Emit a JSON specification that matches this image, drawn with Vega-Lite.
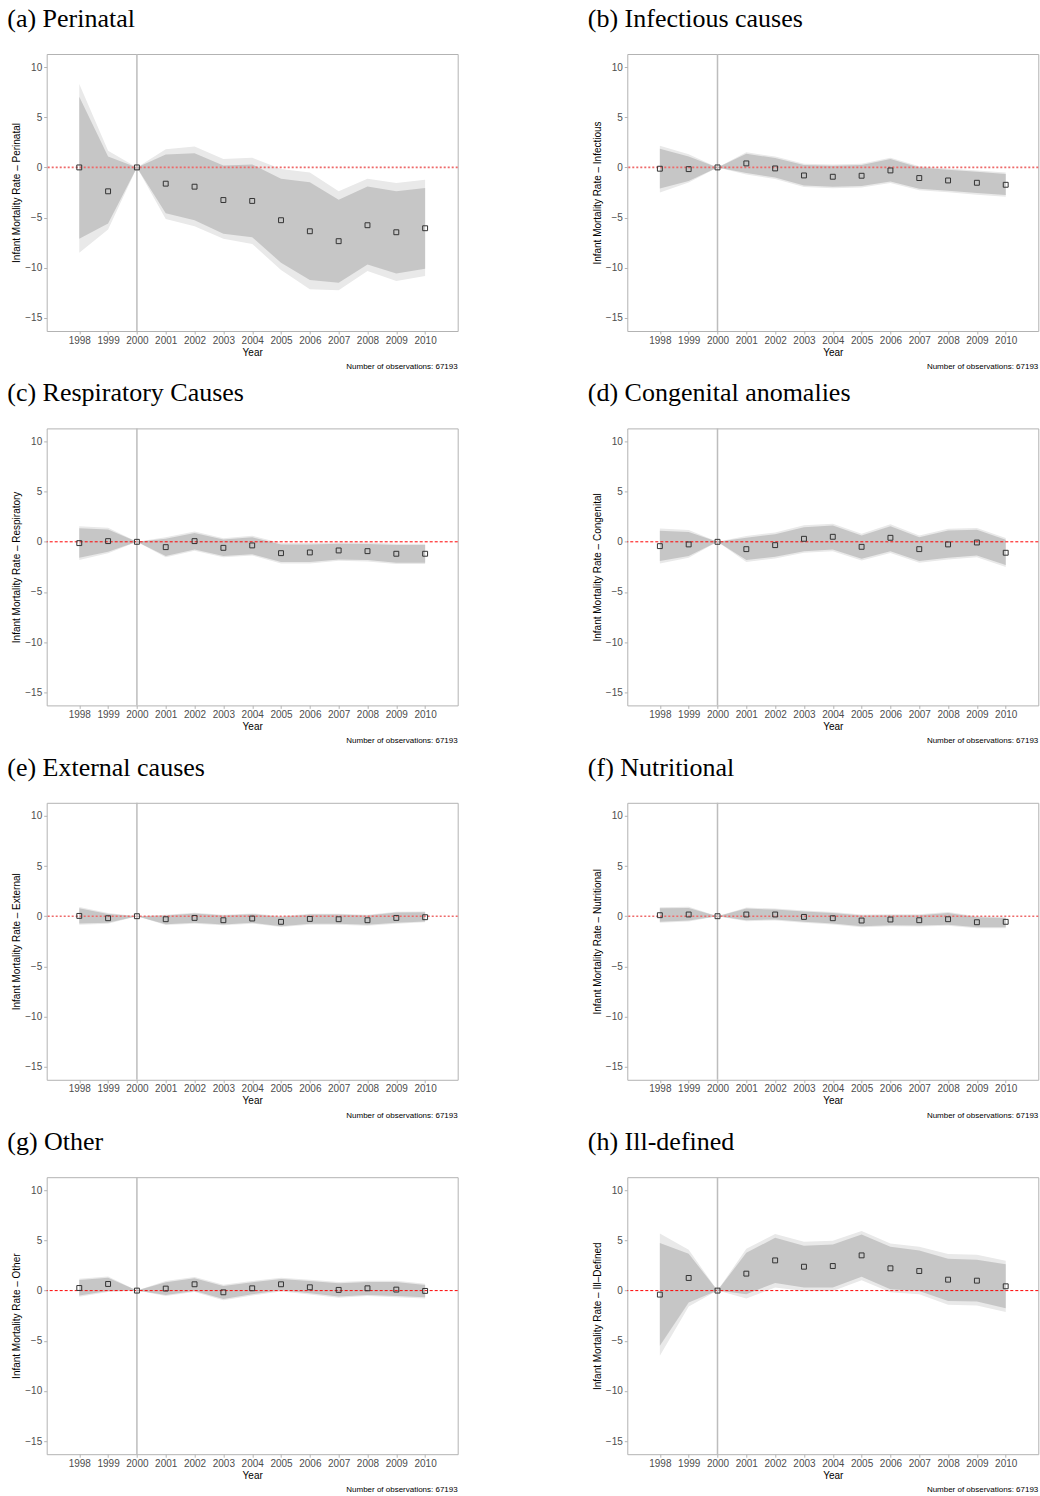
{
  "$schema": "https://vega.github.io/schema/vega-lite/v6.json",
  "padding": {"left": 6.7, "top": 5, "right": 0, "bottom": 0},
  "background": "white",
  "config": {
    "font": "Liberation Sans",
    "view": {"stroke": "#b3b3b3", "strokeWidth": 1},
    "axis": {"grid": false, "domain": false, "tickSize": 3, "tickColor": "#b3b3b3", "labelFont": "Liberation Sans", "labelFontSize": 10, "labelColor": "#4d4d4d", "titleFont": "Liberation Sans", "titleFontSize": 10, "titleFontWeight": "normal", "titleColor": "#000000"},
    "axisX": {"labelPadding": 1, "titlePadding": 2, "labelFlush": false, "labelOverlap": false},
    "axisY": {"labelPadding": 2, "titlePadding": 3},
    "title": {"font": "Liberation Serif", "fontSize": 26, "fontWeight": "normal", "color": "#000000", "anchor": "start", "frame": "bounds", "baseline": "alphabetic", "offset": 21, "dx": -4},
    "area": {"interpolate": "linear"},
    "point": {"shape": "square", "filled": false, "size": 24, "stroke": "#333333", "strokeWidth": 1, "opacity": 1}
  },
  "datasets": {
    "est": [
      {"panel": "a", "year": 1998, "est": 0, "lo90": -7.12, "hi90": 7.05, "lo95": -8.51, "hi95": 8.31},
      {"panel": "a", "year": 1999, "est": -2.38, "lo90": -5.6, "hi90": 1.09, "lo95": -6.19, "hi95": 1.66},
      {"panel": "a", "year": 2000, "est": 0, "lo90": 0, "hi90": 0, "lo95": 0, "hi95": 0},
      {"panel": "a", "year": 2001, "est": -1.62, "lo90": -4.57, "hi90": 1.29, "lo95": -5.13, "hi95": 1.82},
      {"panel": "a", "year": 2002, "est": -1.92, "lo90": -5.26, "hi90": 1.42, "lo95": -5.86, "hi95": 2.09},
      {"panel": "a", "year": 2003, "est": -3.25, "lo90": -6.62, "hi90": 0.2, "lo95": -7.12, "hi95": 0.83},
      {"panel": "a", "year": 2004, "est": -3.34, "lo90": -6.95, "hi90": 0.3, "lo95": -7.62, "hi95": 0.96},
      {"panel": "a", "year": 2005, "est": -5.26, "lo90": -9.5, "hi90": -1.13, "lo95": -10.23, "hi95": -0.17},
      {"panel": "a", "year": 2006, "est": -6.36, "lo90": -11.23, "hi90": -1.49, "lo95": -12.15, "hi95": -0.5},
      {"panel": "a", "year": 2007, "est": -7.35, "lo90": -11.49, "hi90": -3.21, "lo95": -12.25, "hi95": -2.38},
      {"panel": "a", "year": 2008, "est": -5.76, "lo90": -9.67, "hi90": -1.89, "lo95": -10.33, "hi95": -1.13},
      {"panel": "a", "year": 2009, "est": -6.46, "lo90": -10.56, "hi90": -2.38, "lo95": -11.32, "hi95": -1.56},
      {"panel": "a", "year": 2010, "est": -6.06, "lo90": -10.1, "hi90": -2.05, "lo95": -10.83, "hi95": -1.23},

      {"panel": "b", "year": 1998, "est": -0.13, "lo90": -2.09, "hi90": 1.86, "lo95": -2.49, "hi95": 2.16},
      {"panel": "b", "year": 1999, "est": -0.17, "lo90": -1.36, "hi90": 1.1, "lo95": -1.5, "hi95": 1.3},
      {"panel": "b", "year": 2000, "est": 0, "lo90": 0, "hi90": 0, "lo95": 0, "hi95": 0},
      {"panel": "b", "year": 2001, "est": 0.4, "lo90": -0.56, "hi90": 1.36, "lo95": -0.7, "hi95": 1.5},
      {"panel": "b", "year": 2002, "est": -0.1, "lo90": -1.0, "hi90": 0.93, "lo95": -1.15, "hi95": 1.08},
      {"panel": "b", "year": 2003, "est": -0.8, "lo90": -1.79, "hi90": 0.23, "lo95": -1.95, "hi95": 0.37},
      {"panel": "b", "year": 2004, "est": -0.93, "lo90": -1.93, "hi90": 0.17, "lo95": -2.07, "hi95": 0.3},
      {"panel": "b", "year": 2005, "est": -0.83, "lo90": -1.86, "hi90": 0.23, "lo95": -2.0, "hi95": 0.37},
      {"panel": "b", "year": 2006, "est": -0.3, "lo90": -1.4, "hi90": 0.83, "lo95": -1.55, "hi95": 0.97},
      {"panel": "b", "year": 2007, "est": -1.06, "lo90": -2.13, "hi90": 0.0, "lo95": -2.28, "hi95": 0.12},
      {"panel": "b", "year": 2008, "est": -1.3, "lo90": -2.33, "hi90": -0.23, "lo95": -2.48, "hi95": -0.1},
      {"panel": "b", "year": 2009, "est": -1.53, "lo90": -2.56, "hi90": -0.43, "lo95": -2.72, "hi95": -0.3},
      {"panel": "b", "year": 2010, "est": -1.73, "lo90": -2.76, "hi90": -0.66, "lo95": -2.93, "hi95": -0.5},

      {"panel": "c", "year": 1998, "est": -0.13, "lo90": -1.59, "hi90": 1.36, "lo95": -1.8, "hi95": 1.55},
      {"panel": "c", "year": 1999, "est": 0.07, "lo90": -0.99, "hi90": 1.23, "lo95": -1.15, "hi95": 1.4},
      {"panel": "c", "year": 2000, "est": 0, "lo90": 0, "hi90": 0, "lo95": 0, "hi95": 0},
      {"panel": "c", "year": 2001, "est": -0.53, "lo90": -1.42, "hi90": 0.3, "lo95": -1.55, "hi95": 0.45},
      {"panel": "c", "year": 2002, "est": 0.07, "lo90": -0.76, "hi90": 0.89, "lo95": -0.9, "hi95": 1.03},
      {"panel": "c", "year": 2003, "est": -0.6, "lo90": -1.42, "hi90": 0.23, "lo95": -1.55, "hi95": 0.36},
      {"panel": "c", "year": 2004, "est": -0.36, "lo90": -1.23, "hi90": 0.46, "lo95": -1.36, "hi95": 0.6},
      {"panel": "c", "year": 2005, "est": -1.13, "lo90": -2.02, "hi90": -0.26, "lo95": -2.15, "hi95": -0.12},
      {"panel": "c", "year": 2006, "est": -1.06, "lo90": -2.02, "hi90": -0.26, "lo95": -2.15, "hi95": -0.12},
      {"panel": "c", "year": 2007, "est": -0.86, "lo90": -1.75, "hi90": -0.2, "lo95": -1.88, "hi95": -0.06},
      {"panel": "c", "year": 2008, "est": -0.93, "lo90": -1.82, "hi90": -0.22, "lo95": -1.95, "hi95": -0.08},
      {"panel": "c", "year": 2009, "est": -1.19, "lo90": -2.09, "hi90": -0.33, "lo95": -2.22, "hi95": -0.19},
      {"panel": "c", "year": 2010, "est": -1.19, "lo90": -2.09, "hi90": -0.33, "lo95": -2.22, "hi95": -0.19},

      {"panel": "d", "year": 1998, "est": -0.43, "lo90": -1.92, "hi90": 1.09, "lo95": -2.15, "hi95": 1.32},
      {"panel": "d", "year": 1999, "est": -0.26, "lo90": -1.42, "hi90": 0.99, "lo95": -1.6, "hi95": 1.17},
      {"panel": "d", "year": 2000, "est": 0, "lo90": 0, "hi90": 0, "lo95": 0, "hi95": 0},
      {"panel": "d", "year": 2001, "est": -0.73, "lo90": -1.82, "hi90": 0.4, "lo95": -2.0, "hi95": 0.58},
      {"panel": "d", "year": 2002, "est": -0.33, "lo90": -1.49, "hi90": 0.76, "lo95": -1.66, "hi95": 0.93},
      {"panel": "d", "year": 2003, "est": 0.3, "lo90": -0.93, "hi90": 1.46, "lo95": -1.1, "hi95": 1.64},
      {"panel": "d", "year": 2004, "est": 0.5, "lo90": -0.76, "hi90": 1.62, "lo95": -0.94, "hi95": 1.8},
      {"panel": "d", "year": 2005, "est": -0.5, "lo90": -1.69, "hi90": 0.63, "lo95": -1.86, "hi95": 0.8},
      {"panel": "d", "year": 2006, "est": 0.4, "lo90": -0.93, "hi90": 1.56, "lo95": -1.11, "hi95": 1.74},
      {"panel": "d", "year": 2007, "est": -0.73, "lo90": -1.92, "hi90": 0.46, "lo95": -2.09, "hi95": 0.63},
      {"panel": "d", "year": 2008, "est": -0.26, "lo90": -1.59, "hi90": 1.13, "lo95": -1.77, "hi95": 1.31},
      {"panel": "d", "year": 2009, "est": -0.07, "lo90": -1.36, "hi90": 1.19, "lo95": -1.54, "hi95": 1.37},
      {"panel": "d", "year": 2010, "est": -1.09, "lo90": -2.32, "hi90": 0.2, "lo95": -2.5, "hi95": 0.38},

      {"panel": "e", "year": 1998, "est": 0.03, "lo90": -0.73, "hi90": 0.8, "lo95": -0.85, "hi95": 0.92},
      {"panel": "e", "year": 1999, "est": -0.2, "lo90": -0.66, "hi90": 0.23, "lo95": -0.74, "hi95": 0.31},
      {"panel": "e", "year": 2000, "est": 0, "lo90": 0, "hi90": 0, "lo95": 0, "hi95": 0},
      {"panel": "e", "year": 2001, "est": -0.3, "lo90": -0.8, "hi90": 0.07, "lo95": -0.88, "hi95": 0.15},
      {"panel": "e", "year": 2002, "est": -0.17, "lo90": -0.66, "hi90": 0.27, "lo95": -0.74, "hi95": 0.35},
      {"panel": "e", "year": 2003, "est": -0.4, "lo90": -0.83, "hi90": 0.07, "lo95": -0.91, "hi95": 0.15},
      {"panel": "e", "year": 2004, "est": -0.23, "lo90": -0.66, "hi90": 0.2, "lo95": -0.74, "hi95": 0.28},
      {"panel": "e", "year": 2005, "est": -0.56, "lo90": -1.0, "hi90": -0.07, "lo95": -1.08, "hi95": 0.01},
      {"panel": "e", "year": 2006, "est": -0.27, "lo90": -0.76, "hi90": 0.17, "lo95": -0.84, "hi95": 0.25},
      {"panel": "e", "year": 2007, "est": -0.3, "lo90": -0.76, "hi90": 0.17, "lo95": -0.84, "hi95": 0.25},
      {"panel": "e", "year": 2008, "est": -0.4, "lo90": -0.86, "hi90": 0.07, "lo95": -0.94, "hi95": 0.15},
      {"panel": "e", "year": 2009, "est": -0.17, "lo90": -0.66, "hi90": 0.37, "lo95": -0.74, "hi95": 0.45},
      {"panel": "e", "year": 2010, "est": -0.1, "lo90": -0.53, "hi90": 0.4, "lo95": -0.61, "hi95": 0.48},

      {"panel": "f", "year": 1998, "est": 0.1, "lo90": -0.56, "hi90": 0.8, "lo95": -0.66, "hi95": 0.9},
      {"panel": "f", "year": 1999, "est": 0.17, "lo90": -0.43, "hi90": 0.83, "lo95": -0.53, "hi95": 0.93},
      {"panel": "f", "year": 2000, "est": 0, "lo90": 0, "hi90": 0, "lo95": 0, "hi95": 0},
      {"panel": "f", "year": 2001, "est": 0.17, "lo90": -0.4, "hi90": 0.76, "lo95": -0.5, "hi95": 0.86},
      {"panel": "f", "year": 2002, "est": 0.17, "lo90": -0.33, "hi90": 0.66, "lo95": -0.43, "hi95": 0.76},
      {"panel": "f", "year": 2003, "est": -0.07, "lo90": -0.56, "hi90": 0.47, "lo95": -0.66, "hi95": 0.57},
      {"panel": "f", "year": 2004, "est": -0.2, "lo90": -0.73, "hi90": 0.33, "lo95": -0.83, "hi95": 0.43},
      {"panel": "f", "year": 2005, "est": -0.43, "lo90": -1.0, "hi90": 0.07, "lo95": -1.1, "hi95": 0.17},
      {"panel": "f", "year": 2006, "est": -0.33, "lo90": -0.9, "hi90": 0.1, "lo95": -1.0, "hi95": 0.2},
      {"panel": "f", "year": 2007, "est": -0.4, "lo90": -0.93, "hi90": 0.1, "lo95": -1.03, "hi95": 0.2},
      {"panel": "f", "year": 2008, "est": -0.3, "lo90": -0.86, "hi90": 0.33, "lo95": -0.96, "hi95": 0.43},
      {"panel": "f", "year": 2009, "est": -0.6, "lo90": -1.1, "hi90": -0.1, "lo95": -1.2, "hi95": 0.0},
      {"panel": "f", "year": 2010, "est": -0.56, "lo90": -1.1, "hi90": -0.17, "lo95": -1.2, "hi95": -0.07},

      {"panel": "g", "year": 1998, "est": 0.26, "lo90": -0.5, "hi90": 1.06, "lo95": -0.62, "hi95": 1.18},
      {"panel": "g", "year": 1999, "est": 0.66, "lo90": -0.03, "hi90": 1.29, "lo95": -0.15, "hi95": 1.41},
      {"panel": "g", "year": 2000, "est": 0, "lo90": 0, "hi90": 0, "lo95": 0, "hi95": 0},
      {"panel": "g", "year": 2001, "est": 0.2, "lo90": -0.43, "hi90": 0.83, "lo95": -0.55, "hi95": 0.95},
      {"panel": "g", "year": 2002, "est": 0.63, "lo90": -0.03, "hi90": 1.23, "lo95": -0.15, "hi95": 1.35},
      {"panel": "g", "year": 2003, "est": -0.17, "lo90": -0.83, "hi90": 0.46, "lo95": -0.95, "hi95": 0.58},
      {"panel": "g", "year": 2004, "est": 0.23, "lo90": -0.36, "hi90": 0.83, "lo95": -0.48, "hi95": 0.95},
      {"panel": "g", "year": 2005, "est": 0.63, "lo90": 0.03, "hi90": 1.16, "lo95": -0.09, "hi95": 1.28},
      {"panel": "g", "year": 2006, "est": 0.33, "lo90": -0.26, "hi90": 0.96, "lo95": -0.38, "hi95": 1.08},
      {"panel": "g", "year": 2007, "est": 0.07, "lo90": -0.6, "hi90": 0.73, "lo95": -0.72, "hi95": 0.85},
      {"panel": "g", "year": 2008, "est": 0.23, "lo90": -0.43, "hi90": 0.86, "lo95": -0.55, "hi95": 0.98},
      {"panel": "g", "year": 2009, "est": 0.1, "lo90": -0.53, "hi90": 0.86, "lo95": -0.65, "hi95": 0.98},
      {"panel": "g", "year": 2010, "est": -0.03, "lo90": -0.66, "hi90": 0.56, "lo95": -0.78, "hi95": 0.68},

      {"panel": "h", "year": 1998, "est": -0.4, "lo90": -5.5, "hi90": 4.74, "lo95": -6.49, "hi95": 5.7},
      {"panel": "h", "year": 1999, "est": 1.26, "lo90": -1.19, "hi90": 3.68, "lo95": -1.59, "hi95": 4.07},
      {"panel": "h", "year": 2000, "est": 0, "lo90": 0, "hi90": 0, "lo95": 0, "hi95": 0},
      {"panel": "h", "year": 2001, "est": 1.69, "lo90": -0.36, "hi90": 3.77, "lo95": -0.79, "hi95": 4.17},
      {"panel": "h", "year": 2002, "est": 3.01, "lo90": 0.76, "hi90": 5.26, "lo95": 0.3, "hi95": 5.63},
      {"panel": "h", "year": 2003, "est": 2.38, "lo90": 0.3, "hi90": 4.47, "lo95": -0.03, "hi95": 4.87},
      {"panel": "h", "year": 2004, "est": 2.45, "lo90": 0.3, "hi90": 4.6, "lo95": -0.03, "hi95": 4.97},
      {"panel": "h", "year": 2005, "est": 3.51, "lo90": 1.39, "hi90": 5.6, "lo95": 1.03, "hi95": 5.93},
      {"panel": "h", "year": 2006, "est": 2.22, "lo90": 0.13, "hi90": 4.37, "lo95": -0.17, "hi95": 4.7},
      {"panel": "h", "year": 2007, "est": 1.95, "lo90": -0.03, "hi90": 4.0, "lo95": -0.36, "hi95": 4.37},
      {"panel": "h", "year": 2008, "est": 1.09, "lo90": -1.03, "hi90": 3.18, "lo95": -1.42, "hi95": 3.64},
      {"panel": "h", "year": 2009, "est": 0.99, "lo90": -1.09, "hi90": 3.08, "lo95": -1.49, "hi95": 3.58},
      {"panel": "h", "year": 2010, "est": 0.43, "lo90": -1.75, "hi90": 2.62, "lo95": -2.12, "hi95": 2.98}
    ]
  },
  "columns": 2,
  "spacing": {"row": 7.4, "column": 127.6},
  "concat": [
    {"title": "(a) Perinatal", "vconcat": [{"width": 411, "height": 277,
      "title": {"text": "Number of observations: 67193", "orient": "bottom", "anchor": "end", "frame": "group", "font": "Liberation Sans", "fontSize": 8, "baseline": "top", "offset": 6, "dx": 0},
      "layer": [
        {"data": {"name": "est"}, "transform": [{"filter": "datum.panel == 'a'"}], "mark": {"type": "area", "color": "#e9e9e9"},
         "encoding": {"x": {"field": "year", "type": "quantitative", "scale": {"domain": [1996.87, 2011.13], "nice": false, "zero": false}, "axis": {"title": "Year", "values": [1998,1999,2000,2001,2002,2003,2004,2005,2006,2007,2008,2009,2010], "format": "d", "labelOverlap": false, "labelFlush": false}},
                      "y": {"field": "lo95", "type": "quantitative", "scale": {"domain": [-16.3, 11.3], "nice": false, "zero": false}, "axis": {"title": "Infant Mortality Rate – Perinatal", "values": [-15,-10,-5,0,5,10]}}, "y2": {"field": "hi95"}}},
        {"data": {"name": "est"}, "transform": [{"filter": "datum.panel == 'a'"}], "mark": {"type": "area", "color": "#c6c6c6"},
         "encoding": {"x": {"field": "year", "type": "quantitative", "axis": {"title": "Year", "values": [1998,1999,2000,2001,2002,2003,2004,2005,2006,2007,2008,2009,2010], "format": "d", "labelOverlap": false, "labelFlush": false}},
                      "y": {"field": "lo90", "type": "quantitative", "axis": {"title": "Infant Mortality Rate – Perinatal", "values": [-15,-10,-5,0,5,10]}}, "y2": {"field": "hi90"}}},
        {"data": {"values": [{}]}, "mark": {"type": "rule", "color": "#ee6a6a", "strokeWidth": 1.6, "strokeDash": [2, 2]},
         "encoding": {"y": {"datum": 0, "type": "quantitative", "axis": {"title": "Infant Mortality Rate – Perinatal", "values": [-15,-10,-5,0,5,10]}}}},
        {"data": {"values": [{}]}, "mark": {"type": "rule", "color": "#bdbdbd", "strokeWidth": 1.5},
         "encoding": {"x": {"datum": 2000, "type": "quantitative", "axis": {"title": "Year", "values": [1998,1999,2000,2001,2002,2003,2004,2005,2006,2007,2008,2009,2010], "format": "d", "labelOverlap": false, "labelFlush": false}}}},
        {"data": {"name": "est"}, "transform": [{"filter": "datum.panel == 'a'"}], "mark": {"type": "point"},
         "encoding": {"x": {"field": "year", "type": "quantitative", "axis": {"title": "Year", "values": [1998,1999,2000,2001,2002,2003,2004,2005,2006,2007,2008,2009,2010], "format": "d", "labelOverlap": false, "labelFlush": false}},
                      "y": {"field": "est", "type": "quantitative", "axis": {"title": "Infant Mortality Rate – Perinatal", "values": [-15,-10,-5,0,5,10]}}}}
      ]}]},
    {"title": "(b) Infectious causes", "vconcat": [{"width": 411, "height": 277,
      "title": {"text": "Number of observations: 67193", "orient": "bottom", "anchor": "end", "frame": "group", "font": "Liberation Sans", "fontSize": 8, "baseline": "top", "offset": 6, "dx": 0},
      "layer": [
        {"data": {"name": "est"}, "transform": [{"filter": "datum.panel == 'b'"}], "mark": {"type": "area", "color": "#e9e9e9"},
         "encoding": {"x": {"field": "year", "type": "quantitative", "scale": {"domain": [1996.87, 2011.13], "nice": false, "zero": false}, "axis": {"title": "Year", "values": [1998,1999,2000,2001,2002,2003,2004,2005,2006,2007,2008,2009,2010], "format": "d", "labelOverlap": false, "labelFlush": false}},
                      "y": {"field": "lo95", "type": "quantitative", "scale": {"domain": [-16.3, 11.3], "nice": false, "zero": false}, "axis": {"title": "Infant Mortality Rate – Infectious", "values": [-15,-10,-5,0,5,10]}}, "y2": {"field": "hi95"}}},
        {"data": {"name": "est"}, "transform": [{"filter": "datum.panel == 'b'"}], "mark": {"type": "area", "color": "#c6c6c6"},
         "encoding": {"x": {"field": "year", "type": "quantitative", "axis": {"title": "Year", "values": [1998,1999,2000,2001,2002,2003,2004,2005,2006,2007,2008,2009,2010], "format": "d", "labelOverlap": false, "labelFlush": false}},
                      "y": {"field": "lo90", "type": "quantitative", "axis": {"title": "Infant Mortality Rate – Infectious", "values": [-15,-10,-5,0,5,10]}}, "y2": {"field": "hi90"}}},
        {"data": {"values": [{}]}, "mark": {"type": "rule", "color": "#ee6a6a", "strokeWidth": 1.6, "strokeDash": [2, 2]},
         "encoding": {"y": {"datum": 0, "type": "quantitative", "axis": {"title": "Infant Mortality Rate – Infectious", "values": [-15,-10,-5,0,5,10]}}}},
        {"data": {"values": [{}]}, "mark": {"type": "rule", "color": "#bdbdbd", "strokeWidth": 1.5},
         "encoding": {"x": {"datum": 2000, "type": "quantitative", "axis": {"title": "Year", "values": [1998,1999,2000,2001,2002,2003,2004,2005,2006,2007,2008,2009,2010], "format": "d", "labelOverlap": false, "labelFlush": false}}}},
        {"data": {"name": "est"}, "transform": [{"filter": "datum.panel == 'b'"}], "mark": {"type": "point"},
         "encoding": {"x": {"field": "year", "type": "quantitative", "axis": {"title": "Year", "values": [1998,1999,2000,2001,2002,2003,2004,2005,2006,2007,2008,2009,2010], "format": "d", "labelOverlap": false, "labelFlush": false}},
                      "y": {"field": "est", "type": "quantitative", "axis": {"title": "Infant Mortality Rate – Infectious", "values": [-15,-10,-5,0,5,10]}}}}
      ]}]},
    {"title": "(c) Respiratory Causes", "vconcat": [{"width": 411, "height": 277,
      "title": {"text": "Number of observations: 67193", "orient": "bottom", "anchor": "end", "frame": "group", "font": "Liberation Sans", "fontSize": 8, "baseline": "top", "offset": 6, "dx": 0},
      "layer": [
        {"data": {"name": "est"}, "transform": [{"filter": "datum.panel == 'c'"}], "mark": {"type": "area", "color": "#e9e9e9"},
         "encoding": {"x": {"field": "year", "type": "quantitative", "scale": {"domain": [1996.87, 2011.13], "nice": false, "zero": false}, "axis": {"title": "Year", "values": [1998,1999,2000,2001,2002,2003,2004,2005,2006,2007,2008,2009,2010], "format": "d", "labelOverlap": false, "labelFlush": false}},
                      "y": {"field": "lo95", "type": "quantitative", "scale": {"domain": [-16.3, 11.3], "nice": false, "zero": false}, "axis": {"title": "Infant Mortality Rate – Respiratory", "values": [-15,-10,-5,0,5,10]}}, "y2": {"field": "hi95"}}},
        {"data": {"name": "est"}, "transform": [{"filter": "datum.panel == 'c'"}], "mark": {"type": "area", "color": "#c6c6c6"},
         "encoding": {"x": {"field": "year", "type": "quantitative", "axis": {"title": "Year", "values": [1998,1999,2000,2001,2002,2003,2004,2005,2006,2007,2008,2009,2010], "format": "d", "labelOverlap": false, "labelFlush": false}},
                      "y": {"field": "lo90", "type": "quantitative", "axis": {"title": "Infant Mortality Rate – Respiratory", "values": [-15,-10,-5,0,5,10]}}, "y2": {"field": "hi90"}}},
        {"data": {"values": [{}]}, "mark": {"type": "rule", "color": "#ff0000", "strokeWidth": 1, "strokeDash": [3, 2]},
         "encoding": {"y": {"datum": 0, "type": "quantitative", "axis": {"title": "Infant Mortality Rate – Respiratory", "values": [-15,-10,-5,0,5,10]}}}},
        {"data": {"values": [{}]}, "mark": {"type": "rule", "color": "#bdbdbd", "strokeWidth": 1.5},
         "encoding": {"x": {"datum": 2000, "type": "quantitative", "axis": {"title": "Year", "values": [1998,1999,2000,2001,2002,2003,2004,2005,2006,2007,2008,2009,2010], "format": "d", "labelOverlap": false, "labelFlush": false}}}},
        {"data": {"name": "est"}, "transform": [{"filter": "datum.panel == 'c'"}], "mark": {"type": "point"},
         "encoding": {"x": {"field": "year", "type": "quantitative", "axis": {"title": "Year", "values": [1998,1999,2000,2001,2002,2003,2004,2005,2006,2007,2008,2009,2010], "format": "d", "labelOverlap": false, "labelFlush": false}},
                      "y": {"field": "est", "type": "quantitative", "axis": {"title": "Infant Mortality Rate – Respiratory", "values": [-15,-10,-5,0,5,10]}}}}
      ]}]},
    {"title": "(d) Congenital anomalies", "vconcat": [{"width": 411, "height": 277,
      "title": {"text": "Number of observations: 67193", "orient": "bottom", "anchor": "end", "frame": "group", "font": "Liberation Sans", "fontSize": 8, "baseline": "top", "offset": 6, "dx": 0},
      "layer": [
        {"data": {"name": "est"}, "transform": [{"filter": "datum.panel == 'd'"}], "mark": {"type": "area", "color": "#e9e9e9"},
         "encoding": {"x": {"field": "year", "type": "quantitative", "scale": {"domain": [1996.87, 2011.13], "nice": false, "zero": false}, "axis": {"title": "Year", "values": [1998,1999,2000,2001,2002,2003,2004,2005,2006,2007,2008,2009,2010], "format": "d", "labelOverlap": false, "labelFlush": false}},
                      "y": {"field": "lo95", "type": "quantitative", "scale": {"domain": [-16.3, 11.3], "nice": false, "zero": false}, "axis": {"title": "Infant Mortality Rate – Congenital", "values": [-15,-10,-5,0,5,10]}}, "y2": {"field": "hi95"}}},
        {"data": {"name": "est"}, "transform": [{"filter": "datum.panel == 'd'"}], "mark": {"type": "area", "color": "#c6c6c6"},
         "encoding": {"x": {"field": "year", "type": "quantitative", "axis": {"title": "Year", "values": [1998,1999,2000,2001,2002,2003,2004,2005,2006,2007,2008,2009,2010], "format": "d", "labelOverlap": false, "labelFlush": false}},
                      "y": {"field": "lo90", "type": "quantitative", "axis": {"title": "Infant Mortality Rate – Congenital", "values": [-15,-10,-5,0,5,10]}}, "y2": {"field": "hi90"}}},
        {"data": {"values": [{}]}, "mark": {"type": "rule", "color": "#ff0000", "strokeWidth": 1, "strokeDash": [3, 2]},
         "encoding": {"y": {"datum": 0, "type": "quantitative", "axis": {"title": "Infant Mortality Rate – Congenital", "values": [-15,-10,-5,0,5,10]}}}},
        {"data": {"values": [{}]}, "mark": {"type": "rule", "color": "#bdbdbd", "strokeWidth": 1.5},
         "encoding": {"x": {"datum": 2000, "type": "quantitative", "axis": {"title": "Year", "values": [1998,1999,2000,2001,2002,2003,2004,2005,2006,2007,2008,2009,2010], "format": "d", "labelOverlap": false, "labelFlush": false}}}},
        {"data": {"name": "est"}, "transform": [{"filter": "datum.panel == 'd'"}], "mark": {"type": "point"},
         "encoding": {"x": {"field": "year", "type": "quantitative", "axis": {"title": "Year", "values": [1998,1999,2000,2001,2002,2003,2004,2005,2006,2007,2008,2009,2010], "format": "d", "labelOverlap": false, "labelFlush": false}},
                      "y": {"field": "est", "type": "quantitative", "axis": {"title": "Infant Mortality Rate – Congenital", "values": [-15,-10,-5,0,5,10]}}}}
      ]}]},
    {"title": "(e) External causes", "vconcat": [{"width": 411, "height": 277,
      "title": {"text": "Number of observations: 67193", "orient": "bottom", "anchor": "end", "frame": "group", "font": "Liberation Sans", "fontSize": 8, "baseline": "top", "offset": 6, "dx": 0},
      "layer": [
        {"data": {"name": "est"}, "transform": [{"filter": "datum.panel == 'e'"}], "mark": {"type": "area", "color": "#e9e9e9"},
         "encoding": {"x": {"field": "year", "type": "quantitative", "scale": {"domain": [1996.87, 2011.13], "nice": false, "zero": false}, "axis": {"title": "Year", "values": [1998,1999,2000,2001,2002,2003,2004,2005,2006,2007,2008,2009,2010], "format": "d", "labelOverlap": false, "labelFlush": false}},
                      "y": {"field": "lo95", "type": "quantitative", "scale": {"domain": [-16.3, 11.3], "nice": false, "zero": false}, "axis": {"title": "Infant Mortality Rate – External", "values": [-15,-10,-5,0,5,10]}}, "y2": {"field": "hi95"}}},
        {"data": {"name": "est"}, "transform": [{"filter": "datum.panel == 'e'"}], "mark": {"type": "area", "color": "#c6c6c6"},
         "encoding": {"x": {"field": "year", "type": "quantitative", "axis": {"title": "Year", "values": [1998,1999,2000,2001,2002,2003,2004,2005,2006,2007,2008,2009,2010], "format": "d", "labelOverlap": false, "labelFlush": false}},
                      "y": {"field": "lo90", "type": "quantitative", "axis": {"title": "Infant Mortality Rate – External", "values": [-15,-10,-5,0,5,10]}}, "y2": {"field": "hi90"}}},
        {"data": {"values": [{}]}, "mark": {"type": "rule", "color": "#ee6a6a", "strokeWidth": 1.6, "strokeDash": [2, 2]},
         "encoding": {"y": {"datum": 0, "type": "quantitative", "axis": {"title": "Infant Mortality Rate – External", "values": [-15,-10,-5,0,5,10]}}}},
        {"data": {"values": [{}]}, "mark": {"type": "rule", "color": "#bdbdbd", "strokeWidth": 1.5},
         "encoding": {"x": {"datum": 2000, "type": "quantitative", "axis": {"title": "Year", "values": [1998,1999,2000,2001,2002,2003,2004,2005,2006,2007,2008,2009,2010], "format": "d", "labelOverlap": false, "labelFlush": false}}}},
        {"data": {"name": "est"}, "transform": [{"filter": "datum.panel == 'e'"}], "mark": {"type": "point"},
         "encoding": {"x": {"field": "year", "type": "quantitative", "axis": {"title": "Year", "values": [1998,1999,2000,2001,2002,2003,2004,2005,2006,2007,2008,2009,2010], "format": "d", "labelOverlap": false, "labelFlush": false}},
                      "y": {"field": "est", "type": "quantitative", "axis": {"title": "Infant Mortality Rate – External", "values": [-15,-10,-5,0,5,10]}}}}
      ]}]},
    {"title": "(f) Nutritional", "vconcat": [{"width": 411, "height": 277,
      "title": {"text": "Number of observations: 67193", "orient": "bottom", "anchor": "end", "frame": "group", "font": "Liberation Sans", "fontSize": 8, "baseline": "top", "offset": 6, "dx": 0},
      "layer": [
        {"data": {"name": "est"}, "transform": [{"filter": "datum.panel == 'f'"}], "mark": {"type": "area", "color": "#e9e9e9"},
         "encoding": {"x": {"field": "year", "type": "quantitative", "scale": {"domain": [1996.87, 2011.13], "nice": false, "zero": false}, "axis": {"title": "Year", "values": [1998,1999,2000,2001,2002,2003,2004,2005,2006,2007,2008,2009,2010], "format": "d", "labelOverlap": false, "labelFlush": false}},
                      "y": {"field": "lo95", "type": "quantitative", "scale": {"domain": [-16.3, 11.3], "nice": false, "zero": false}, "axis": {"title": "Infant Mortality Rate – Nutritional", "values": [-15,-10,-5,0,5,10]}}, "y2": {"field": "hi95"}}},
        {"data": {"name": "est"}, "transform": [{"filter": "datum.panel == 'f'"}], "mark": {"type": "area", "color": "#c6c6c6"},
         "encoding": {"x": {"field": "year", "type": "quantitative", "axis": {"title": "Year", "values": [1998,1999,2000,2001,2002,2003,2004,2005,2006,2007,2008,2009,2010], "format": "d", "labelOverlap": false, "labelFlush": false}},
                      "y": {"field": "lo90", "type": "quantitative", "axis": {"title": "Infant Mortality Rate – Nutritional", "values": [-15,-10,-5,0,5,10]}}, "y2": {"field": "hi90"}}},
        {"data": {"values": [{}]}, "mark": {"type": "rule", "color": "#ee6a6a", "strokeWidth": 1.6, "strokeDash": [2, 2]},
         "encoding": {"y": {"datum": 0, "type": "quantitative", "axis": {"title": "Infant Mortality Rate – Nutritional", "values": [-15,-10,-5,0,5,10]}}}},
        {"data": {"values": [{}]}, "mark": {"type": "rule", "color": "#bdbdbd", "strokeWidth": 1.5},
         "encoding": {"x": {"datum": 2000, "type": "quantitative", "axis": {"title": "Year", "values": [1998,1999,2000,2001,2002,2003,2004,2005,2006,2007,2008,2009,2010], "format": "d", "labelOverlap": false, "labelFlush": false}}}},
        {"data": {"name": "est"}, "transform": [{"filter": "datum.panel == 'f'"}], "mark": {"type": "point"},
         "encoding": {"x": {"field": "year", "type": "quantitative", "axis": {"title": "Year", "values": [1998,1999,2000,2001,2002,2003,2004,2005,2006,2007,2008,2009,2010], "format": "d", "labelOverlap": false, "labelFlush": false}},
                      "y": {"field": "est", "type": "quantitative", "axis": {"title": "Infant Mortality Rate – Nutritional", "values": [-15,-10,-5,0,5,10]}}}}
      ]}]},
    {"title": "(g) Other", "vconcat": [{"width": 411, "height": 277,
      "title": {"text": "Number of observations: 67193", "orient": "bottom", "anchor": "end", "frame": "group", "font": "Liberation Sans", "fontSize": 8, "baseline": "top", "offset": 6, "dx": 0},
      "layer": [
        {"data": {"name": "est"}, "transform": [{"filter": "datum.panel == 'g'"}], "mark": {"type": "area", "color": "#e9e9e9"},
         "encoding": {"x": {"field": "year", "type": "quantitative", "scale": {"domain": [1996.87, 2011.13], "nice": false, "zero": false}, "axis": {"title": "Year", "values": [1998,1999,2000,2001,2002,2003,2004,2005,2006,2007,2008,2009,2010], "format": "d", "labelOverlap": false, "labelFlush": false}},
                      "y": {"field": "lo95", "type": "quantitative", "scale": {"domain": [-16.3, 11.3], "nice": false, "zero": false}, "axis": {"title": "Infant Mortality Rate – Other", "values": [-15,-10,-5,0,5,10]}}, "y2": {"field": "hi95"}}},
        {"data": {"name": "est"}, "transform": [{"filter": "datum.panel == 'g'"}], "mark": {"type": "area", "color": "#c6c6c6"},
         "encoding": {"x": {"field": "year", "type": "quantitative", "axis": {"title": "Year", "values": [1998,1999,2000,2001,2002,2003,2004,2005,2006,2007,2008,2009,2010], "format": "d", "labelOverlap": false, "labelFlush": false}},
                      "y": {"field": "lo90", "type": "quantitative", "axis": {"title": "Infant Mortality Rate – Other", "values": [-15,-10,-5,0,5,10]}}, "y2": {"field": "hi90"}}},
        {"data": {"values": [{}]}, "mark": {"type": "rule", "color": "#ff0000", "strokeWidth": 1, "strokeDash": [3, 2]},
         "encoding": {"y": {"datum": 0, "type": "quantitative", "axis": {"title": "Infant Mortality Rate – Other", "values": [-15,-10,-5,0,5,10]}}}},
        {"data": {"values": [{}]}, "mark": {"type": "rule", "color": "#bdbdbd", "strokeWidth": 1.5},
         "encoding": {"x": {"datum": 2000, "type": "quantitative", "axis": {"title": "Year", "values": [1998,1999,2000,2001,2002,2003,2004,2005,2006,2007,2008,2009,2010], "format": "d", "labelOverlap": false, "labelFlush": false}}}},
        {"data": {"name": "est"}, "transform": [{"filter": "datum.panel == 'g'"}], "mark": {"type": "point"},
         "encoding": {"x": {"field": "year", "type": "quantitative", "axis": {"title": "Year", "values": [1998,1999,2000,2001,2002,2003,2004,2005,2006,2007,2008,2009,2010], "format": "d", "labelOverlap": false, "labelFlush": false}},
                      "y": {"field": "est", "type": "quantitative", "axis": {"title": "Infant Mortality Rate – Other", "values": [-15,-10,-5,0,5,10]}}}}
      ]}]},
    {"title": "(h) Ill-defined", "vconcat": [{"width": 411, "height": 277,
      "title": {"text": "Number of observations: 67193", "orient": "bottom", "anchor": "end", "frame": "group", "font": "Liberation Sans", "fontSize": 8, "baseline": "top", "offset": 6, "dx": 0},
      "layer": [
        {"data": {"name": "est"}, "transform": [{"filter": "datum.panel == 'h'"}], "mark": {"type": "area", "color": "#e9e9e9"},
         "encoding": {"x": {"field": "year", "type": "quantitative", "scale": {"domain": [1996.87, 2011.13], "nice": false, "zero": false}, "axis": {"title": "Year", "values": [1998,1999,2000,2001,2002,2003,2004,2005,2006,2007,2008,2009,2010], "format": "d", "labelOverlap": false, "labelFlush": false}},
                      "y": {"field": "lo95", "type": "quantitative", "scale": {"domain": [-16.3, 11.3], "nice": false, "zero": false}, "axis": {"title": "Infant Mortality Rate – Ill–Defined", "values": [-15,-10,-5,0,5,10]}}, "y2": {"field": "hi95"}}},
        {"data": {"name": "est"}, "transform": [{"filter": "datum.panel == 'h'"}], "mark": {"type": "area", "color": "#c6c6c6"},
         "encoding": {"x": {"field": "year", "type": "quantitative", "axis": {"title": "Year", "values": [1998,1999,2000,2001,2002,2003,2004,2005,2006,2007,2008,2009,2010], "format": "d", "labelOverlap": false, "labelFlush": false}},
                      "y": {"field": "lo90", "type": "quantitative", "axis": {"title": "Infant Mortality Rate – Ill–Defined", "values": [-15,-10,-5,0,5,10]}}, "y2": {"field": "hi90"}}},
        {"data": {"values": [{}]}, "mark": {"type": "rule", "color": "#ff0000", "strokeWidth": 1, "strokeDash": [3, 2]},
         "encoding": {"y": {"datum": 0, "type": "quantitative", "axis": {"title": "Infant Mortality Rate – Ill–Defined", "values": [-15,-10,-5,0,5,10]}}}},
        {"data": {"values": [{}]}, "mark": {"type": "rule", "color": "#bdbdbd", "strokeWidth": 1.5},
         "encoding": {"x": {"datum": 2000, "type": "quantitative", "axis": {"title": "Year", "values": [1998,1999,2000,2001,2002,2003,2004,2005,2006,2007,2008,2009,2010], "format": "d", "labelOverlap": false, "labelFlush": false}}}},
        {"data": {"name": "est"}, "transform": [{"filter": "datum.panel == 'h'"}], "mark": {"type": "point"},
         "encoding": {"x": {"field": "year", "type": "quantitative", "axis": {"title": "Year", "values": [1998,1999,2000,2001,2002,2003,2004,2005,2006,2007,2008,2009,2010], "format": "d", "labelOverlap": false, "labelFlush": false}},
                      "y": {"field": "est", "type": "quantitative", "axis": {"title": "Infant Mortality Rate – Ill–Defined", "values": [-15,-10,-5,0,5,10]}}}}
      ]}]}
  ]
}
